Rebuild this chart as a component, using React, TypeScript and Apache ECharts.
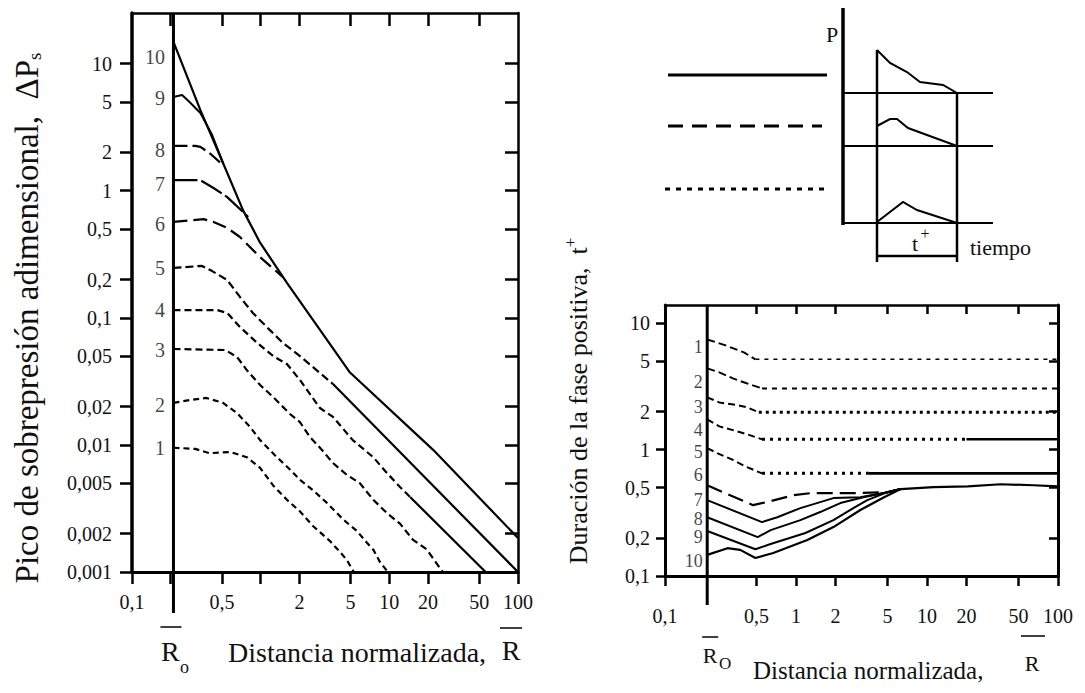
import React, { useEffect, useRef } from "react";
import * as echarts from "echarts";

const FONT = "Liberation Serif";
const RO = 0.21;

// ---- tick / label values ----
const leftXTicks = [0.1, 0.2, 0.5, 1, 2, 5, 10, 20, 50, 100];
const leftXLabels = [0.1, 0.5, 2, 5, 10, 20, 50, 100];
const leftTopTicks = [0.2, 0.5, 1, 2, 5, 10, 20, 50];
const leftYTicks = [0.001, 0.002, 0.005, 0.01, 0.02, 0.05, 0.1, 0.2, 0.5, 1, 2, 5, 10];
const leftRightTicks = [0.002, 0.005, 0.01, 0.02, 0.05, 0.1, 0.2, 0.5, 1, 2, 5, 10];
const rightXTicks = [0.1, 0.5, 1, 2, 5, 10, 20, 50, 100];
const rightTopTicks = [0.5, 1, 2, 5, 10, 20, 50];
const rightYTicks = [0.1, 0.2, 0.5, 1, 2, 5, 10];
const rightRightTicks = [0.2, 0.5, 1, 2, 5, 10];

// ---- left chart: peak overpressure curves ----
const L10 = [[0.21, 14.8], [0.34, 4.3], [0.51, 1.65], [0.73, 0.7], [0.99, 0.39], [1.6, 0.188], [2.9, 0.08], [4.9, 0.0375], [22, 0.0091], [100, 0.00185]];
const L9 = [[0.21, 5.46], [0.245, 5.66], [0.28, 4.99], [0.34, 4.09], [0.42, 2.74], [0.51, 1.65]];
const L8 = [[0.21, 2.25], [0.31, 2.25], [0.34, 2.21], [0.4, 1.98], [0.51, 1.59]];
const L7 = [[0.21, 1.21], [0.34, 1.21], [0.43, 1.05], [0.55, 0.89], [0.73, 0.68], [0.8, 0.62]];
const L6 = [[0.21, 0.568], [0.36, 0.598], [0.43, 0.568], [0.55, 0.509], [0.69, 0.432], [0.99, 0.3], [1.49, 0.209]];
const L5dash = [[0.21, 0.247], [0.35, 0.256], [0.42, 0.233], [0.55, 0.198], [0.69, 0.146], [0.87, 0.109], [1.18, 0.08], [1.49, 0.0634], [2.02, 0.05], [3.65, 0.0301]];
const L5solid = [[3.65, 0.0301], [100, 0.001]];
const L4dash = [[0.21, 0.115], [0.46, 0.115], [0.55, 0.109], [0.69, 0.0847], [0.94, 0.0634], [1.25, 0.05], [1.6, 0.0433], [2.02, 0.0324], [2.89, 0.0195], [3.65, 0.0166], [5.2, 0.0109], [7.5, 0.008], [9.6, 0.006], [12.1, 0.00467], [14.5, 0.00389]];
const L4solid = [[14.5, 0.00389], [56, 0.001]];
const L3 = [[0.21, 0.0568], [0.53, 0.0558], [0.655, 0.0492], [0.78, 0.0388], [0.99, 0.0296], [1.25, 0.0238], [1.69, 0.0175], [2.02, 0.0151], [2.42, 0.0115], [2.89, 0.0095], [3.65, 0.0072], [4.68, 0.0058], [5.9, 0.005], [7.5, 0.0037], [9.6, 0.0029], [12.1, 0.0024], [15.2, 0.0018], [19.6, 0.0015], [26, 0.001]];
const L2 = [[0.21, 0.0214], [0.28, 0.0225], [0.38, 0.0234], [0.51, 0.0214], [0.655, 0.0178], [0.83, 0.0138], [0.99, 0.0109], [1.29, 0.0083], [1.69, 0.0064], [2.02, 0.0053], [2.55, 0.0044], [3.27, 0.0035], [4.36, 0.0026], [5.6, 0.0021], [6.7, 0.0017], [7.5, 0.0015], [8.45, 0.0012], [9.75, 0.001]];
const L1 = [[0.21, 0.0095], [0.31, 0.0093], [0.4, 0.0086], [0.58, 0.0088], [0.78, 0.008], [0.99, 0.0066], [1.25, 0.0048], [1.6, 0.0037], [2.02, 0.003], [2.55, 0.0023], [3.46, 0.00175], [4.13, 0.00144], [4.68, 0.00124], [5.3, 0.001]];
const leftLabelNames = ["1", "2", "3", "4", "5", "6", "7", "8", "9", "10"];
const leftLabelY = [0.0095, 0.0206, 0.0558, 0.115, 0.247, 0.547, 1.13, 2.09, 5.36, 11.3];

// ---- right chart: positive phase duration curves ----
const R1a = [[0.21, 7.47], [0.29, 6.7], [0.4, 5.9], [0.49, 5.2]];
const R1b = [[0.49, 5.2], [100, 5.2]];
const R2a = [[0.21, 4.41], [0.26, 4.1], [0.33, 3.67], [0.42, 3.36], [0.55, 3.06]];
const R2b = [[0.55, 3.06], [100, 3.06]];
const R3a = [[0.21, 2.6], [0.26, 2.37], [0.36, 2.25], [0.42, 2.17], [0.52, 1.98]];
const R3b = [[0.52, 1.98], [100, 1.98]];
const R4a = [[0.21, 1.74], [0.26, 1.53], [0.33, 1.43], [0.42, 1.33], [0.55, 1.21]];
const R4b = [[0.55, 1.21], [20, 1.21]];
const R4c = [[20, 1.21], [100, 1.21]];
const R5a = [[0.21, 1.03], [0.25, 0.94], [0.33, 0.83], [0.42, 0.73], [0.55, 0.65]];
const R5b = [[0.55, 0.65], [3.6, 0.65]];
const R5c = [[3.6, 0.65], [100, 0.65]];
const R6 = [[0.21, 0.523], [0.47, 0.364], [0.6, 0.385], [0.95, 0.436], [1.29, 0.453], [2.74, 0.453], [5.0, 0.461], [6.3, 0.488]];
const R7 = [[0.21, 0.399], [0.55, 0.267], [0.72, 0.292], [1.08, 0.345], [1.93, 0.414], [3.1, 0.421], [5.0, 0.461], [6.3, 0.488]];
const R8 = [[0.21, 0.292], [0.51, 0.203], [0.64, 0.231], [1.08, 0.277], [1.53, 0.321], [2.18, 0.378], [3.27, 0.421], [5.0, 0.461], [6.3, 0.488]];
const R9 = [[0.21, 0.227], [0.49, 0.163], [0.64, 0.179], [1.18, 0.219], [1.93, 0.277], [2.74, 0.345], [3.5, 0.399], [5.0, 0.461], [6.3, 0.488]];
const R10 = [[0.21, 0.147], [0.3, 0.166], [0.375, 0.161], [0.49, 0.139], [0.67, 0.152], [1.22, 0.193], [1.93, 0.244], [3.1, 0.333], [4.7, 0.421], [6.3, 0.488], [11.2, 0.505], [20.5, 0.513], [36.6, 0.533], [65, 0.523], [100, 0.513]];
const rightLabelNames = ["1", "2", "3", "4", "5", "6", "7", "8", "9", "10"];
const rightLabelY = [6.46, 3.42, 2.17, 1.43, 0.955, 0.628, 0.399, 0.282, 0.203, 0.131];

const fmt = (v: any) => String(v).replace(".", ",");
const INK = "#111";

function axisBase(gridIndex: number, min: number, max: number) {
  return {
    type: "log",
    logBase: 10,
    gridIndex,
    min,
    max,
    splitLine: { show: false },
    minorTick: { show: false },
  } as any;
}

function mainAxis(gridIndex: number, min: number, max: number, position: string, ticks: number[], labels: number[], tickLen: number, margin: number, lw: number) {
  return {
    ...axisBase(gridIndex, min, max),
    position,
    axisLine: { show: true, onZero: false, lineStyle: { color: "#000", width: lw } },
    axisTick: { show: true, inside: false, length: tickLen, customValues: ticks, lineStyle: { color: "#000", width: 2.5 } },
    axisLabel: { show: true, customValues: labels, formatter: fmt, margin, fontSize: 20, fontFamily: FONT, color: INK, hideOverlap: false },
  };
}

function borderAxis(gridIndex: number, min: number, max: number, position: string, ticks: number[], tickLen: number, lw: number) {
  return {
    ...axisBase(gridIndex, min, max),
    position,
    axisLine: { show: true, onZero: false, lineStyle: { color: "#000", width: lw } },
    axisTick: { show: true, inside: true, length: tickLen, customValues: ticks, lineStyle: { color: "#000", width: 2.5 } },
    axisLabel: { show: false },
  };
}

function line(data: number[][], xi: number, yi: number, type: any, width: number, cap: string = "butt") {
  return {
    type: "line",
    xAxisIndex: xi,
    yAxisIndex: yi,
    data,
    showSymbol: false,
    symbol: "none",
    silent: true,
    z: 3,
    lineStyle: { color: "#000", width, type, cap },
  };
}

function labels(names: string[], ys: number[], xi: number, yi: number, distance: number, fontSize: number) {
  return {
    type: "scatter",
    xAxisIndex: xi,
    yAxisIndex: yi,
    silent: true,
    symbol: "circle",
    symbolSize: 1,
    itemStyle: { color: "rgba(0,0,0,0)" },
    data: names.map((n, i) => [RO, ys[i], n]),
    labelLayout: { hideOverlap: false },
    label: {
      show: true,
      position: "left",
      distance,
      formatter: (p: any) => p.value[2],
      fontSize,
      lineHeight: fontSize,
      fontFamily: FONT,
      color: INK,
    },
  };
}

const option: any = {
  animation: false,
  backgroundColor: "#fff",
  textStyle: { fontFamily: FONT },
  grid: [
    { left: 132, top: 13, width: 386, height: 559 },
    { left: 665, top: 305, width: 393, height: 271 },
  ],
  xAxis: [
    mainAxis(0, 0.1, 100, "bottom", leftXTicks, leftXLabels, 12, 20, 3),
    borderAxis(0, 0.1, 100, "top", leftTopTicks, 13, 2.5),
    mainAxis(1, 0.1, 100, "bottom", rightXTicks, rightXTicks, 10, 30, 3),
    borderAxis(1, 0.1, 100, "top", rightTopTicks, 9, 2.5),
  ],
  yAxis: [
    mainAxis(0, 0.001, 25, "left", leftYTicks, leftYTicks, 12, 20, 3.5),
    borderAxis(0, 0.001, 25, "right", leftRightTicks, 13, 2.5),
    mainAxis(1, 0.1, 14, "left", rightYTicks, rightYTicks, 9, 15, 3),
    borderAxis(1, 0.1, 14, "right", rightRightTicks, 9, 3),
  ],
  series: [
    line(L10, 0, 0, "solid", 2.2),
    line(L9, 0, 0, "solid", 2),
    line(L8, 0, 0, [14, 5], 2.2),
    line(L7, 0, 0, [24, 4], 2.2),
    line(L6, 0, 0, [14, 6], 2.2),
    line(L5dash, 0, 0, [8, 4], 2.2),
    line(L5solid, 0, 0, "solid", 2.2),
    line(L4dash, 0, 0, [7, 4], 2.2),
    line(L4solid, 0, 0, "solid", 2.2),
    line(L3, 0, 0, [7, 4], 2.2),
    line(L2, 0, 0, [6, 4], 2.2),
    line(L1, 0, 0, [6, 4], 2.2),
    labels(leftLabelNames, leftLabelY, 0, 0, 8, 20),

    line(R1a, 2, 2, [8, 4], 2),
    line(R1b, 2, 2, [4, 5], 1.5),
    line(R2a, 2, 2, [8, 4], 2),
    line(R2b, 2, 2, [5, 5], 2),
    line(R3a, 2, 2, [7, 4], 2),
    line(R3b, 2, 2, [3, 4], 2.8),
    line(R4a, 2, 2, [7, 4], 2),
    line(R4b, 2, 2, [3, 5], 3),
    line(R4c, 2, 2, "solid", 2.6),
    line(R5a, 2, 2, [7, 4], 2),
    line(R5b, 2, 2, [3, 5], 3),
    line(R5c, 2, 2, "solid", 2.6),
    line(R6, 2, 2, [16, 7], 2.2),
    line(R7, 2, 2, "solid", 2),
    line(R8, 2, 2, "solid", 2),
    line(R9, 2, 2, "solid", 2),
    line(R10, 2, 2, "solid", 2.2),
    labels(rightLabelNames, rightLabelY, 2, 2, 4, 18),
  ],
};

const txt = (x: number, y: number, text: string, fontSize: number, extra: any = {}) => ({
  type: "text",
  x,
  y,
  silent: true,
  style: { text, fontSize, fontFamily: FONT, fill: INK, align: "left", verticalAlign: "middle", ...extra },
});
const seg = (x1: number, y1: number, x2: number, y2: number, lineWidth: number, lineDash?: number[]) => ({
  type: "line",
  silent: true,
  shape: { x1, y1, x2, y2 },
  style: { stroke: "#000", lineWidth, lineDash },
});
const poly = (points: number[][], lineWidth: number) => ({
  type: "polyline",
  silent: true,
  shape: { points },
  style: { stroke: "#000", lineWidth, fill: "none" },
});

export default function App() {
  const ref = useRef<HTMLDivElement>(null);
  useEffect(() => {
    const chart = echarts.init(ref.current!, null, { renderer: "svg" });
    chart.setOption(option);

    const lx = chart.convertToPixel({ xAxisIndex: 0 } as any, RO) as number;
    const lTop = chart.convertToPixel({ yAxisIndex: 0 } as any, 25) as number;
    const lBot = chart.convertToPixel({ yAxisIndex: 0 } as any, 0.001) as number;
    const rx = chart.convertToPixel({ xAxisIndex: 2 } as any, RO) as number;
    const rTop = chart.convertToPixel({ yAxisIndex: 2 } as any, 14) as number;
    const rBot = chart.convertToPixel({ yAxisIndex: 2 } as any, 0.1) as number;

    const graphics: any[] = [
      // R_o reference lines
      seg(lx, lTop, lx, lBot + 41, 3),
      seg(rx, rTop, rx, rBot + 29, 3),
      // left R_o label
      seg(lx - 13, lBot + 55, lx + 8, lBot + 55, 1.5),
      txt(lx - 3, lBot + 79, "R", 28, { align: "center" }),
      txt(lx + 11, lBot + 95, "o", 18, { align: "center" }),
      // right R_O label
      seg(rx - 5, rBot + 61, rx + 11, rBot + 61, 1.5),
      txt(rx + 3, rBot + 79, "R", 22, { align: "center" }),
      txt(rx + 18, rBot + 87, "O", 17, { align: "center" }),

      // left axis titles
      txt(228, 652, "Distancia normalizada,", 28),
      seg(500, 628, 522, 628, 1.5),
      txt(511, 650, "R", 28, { align: "center" }),
      {
        type: "text",
        x: 27,
        y: 318,
        rotation: Math.PI / 2,
        silent: true,
        style: {
          text: "{a|Pico de sobrepresión adimensional,  ΔP}{s|s}",
          align: "center",
          verticalAlign: "middle",
          fill: INK,
          rich: {
            a: { fontSize: 33, fontFamily: FONT, fill: INK, lineHeight: 38, verticalAlign: "middle" },
            s: { fontSize: 19, fontFamily: FONT, fill: INK, lineHeight: 38, verticalAlign: "bottom", padding: [0, 0, 2, 0] },
          },
        },
      },
      // right axis titles
      txt(753, 670, "Distancia normalizada,", 25),
      seg(1021, 636, 1045, 636, 1.5),
      txt(1032, 663, "R", 22, { align: "center" }),
      {
        type: "text",
        x: 578,
        y: 401,
        rotation: Math.PI / 2,
        silent: true,
        style: {
          text: "{a|Duración de la fase positiva,  t}{p|+}",
          align: "center",
          verticalAlign: "middle",
          fill: INK,
          rich: {
            a: { fontSize: 26, fontFamily: FONT, fill: INK, lineHeight: 32, verticalAlign: "middle" },
            p: { fontSize: 17, fontFamily: FONT, fill: INK, lineHeight: 32, verticalAlign: "top" },
          },
        },
      },

      // legend schematic
      seg(668, 75, 827, 75, 3),
      seg(668, 126, 822, 126, 3, [15, 9]),
      seg(665, 189, 827, 189, 3, [5, 6]),
      seg(843, 8, 843, 225, 3.5),
      txt(832, 34, "P", 22, { align: "center" }),
      seg(843, 93, 993, 93, 2),
      seg(843, 146, 993, 146, 2),
      seg(843, 223, 993, 223, 2),
      seg(877, 50, 877, 262, 2.5),
      seg(957, 93, 957, 262, 2.5),
      seg(877, 256, 957, 256, 2.5),
      poly([[877, 50], [890, 63], [907, 72], [920, 82], [943, 85], [957, 93]], 2),
      poly([[877, 126], [890, 119], [897, 119], [908, 128], [927, 135], [957, 146]], 2),
      poly([[877, 222], [903, 202], [917, 210], [957, 223]], 2),
      txt(915, 243, "t", 22, { align: "center" }),
      txt(925, 233, "+", 16, { align: "center" }),
      txt(970, 247, "tiempo", 22),
    ];
    chart.setOption({ graphic: graphics });
    return () => chart.dispose();
  }, []);
  return (
    <div
      ref={ref}
      style={{ position: "absolute", left: 0, top: 0, width: 1085, height: 693, background: "#fff" }}
    />
  );
}
